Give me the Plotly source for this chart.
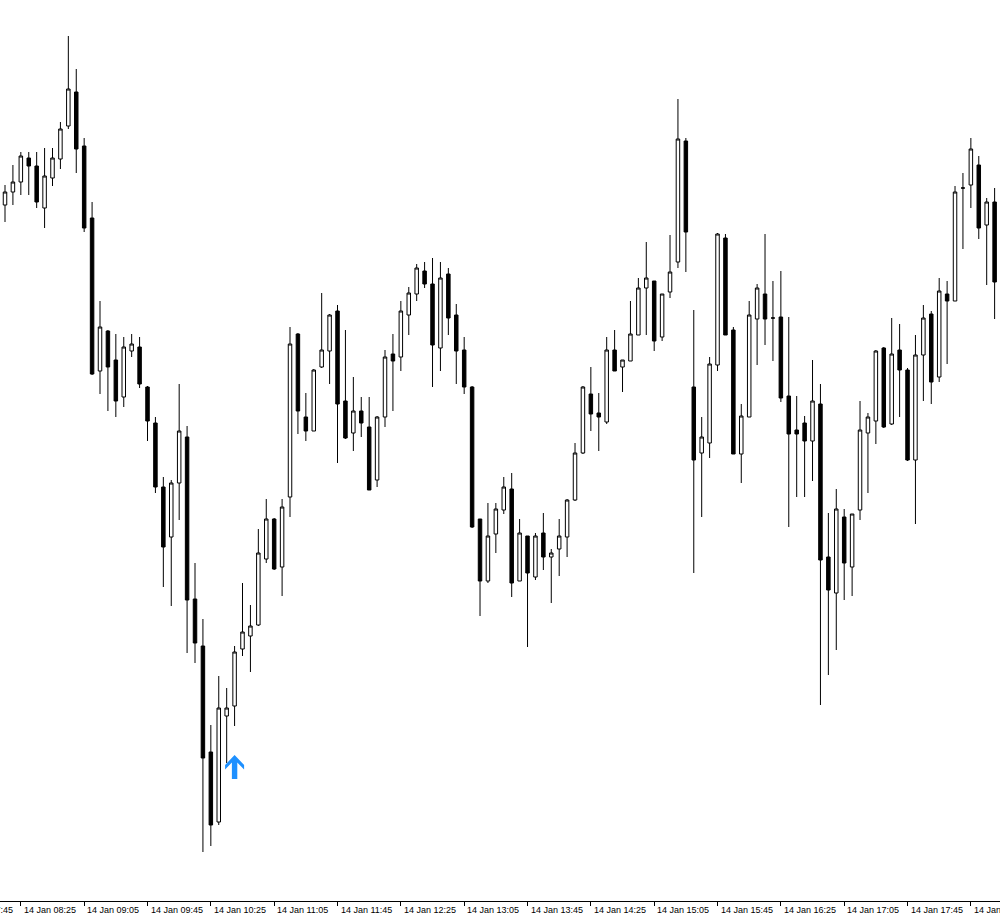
import pandas as pd
import plotly.graph_objects as go

# ── 5-minute bars, 14 Jan from 08:15 ────────────────────────────────────────
START = "2025-01-14 08:15"

OPEN = [795, 808, 818, 842, 834, 792, 822, 841, 874, 908,
        854, 782, 629, 669, 640, 603, 649, 653, 613, 577,
        513, 463, 517, 563, 401, 354, 248, 178, 284, 294,
        351, 364, 375, 441, 481, 433, 503, 666, 583, 569,
        633, 649, 689, 599, 567, 589, 573, 520, 583, 646,
        643, 685, 706, 729, 716, 652, 726, 685, 650, 613,
        481, 419, 466, 490, 511, 419, 464, 423, 467, 443,
        451, 463, 500, 547, 606, 587, 578, 650, 633, 639,
        665, 712, 719, 663, 708, 738, 859, 613, 547, 557,
        635, 762, 670, 546, 583, 681, 706, 682, 683, 604,
        570, 577, 559, 596, 443, 407, 483, 433, 490, 567,
        579, 652, 576, 650, 630, 540, 645, 686, 623, 706,
        699, 812, 815, 835, 775, 798]
HIGH = [815, 835, 848, 848, 848, 852, 852, 878, 964, 931,
        862, 798, 699, 670, 666, 663, 666, 663, 614, 583,
        523, 520, 616, 574, 437, 381, 275, 324, 312, 354,
        417, 395, 471, 501, 482, 501, 673, 667, 607, 631,
        707, 686, 695, 670, 623, 603, 603, 584, 650, 666,
        699, 713, 736, 738, 742, 738, 732, 696, 663, 614,
        481, 497, 497, 523, 527, 481, 464, 467, 487, 451,
        481, 501, 557, 614, 633, 607, 663, 670, 640, 699,
        722, 758, 719, 706, 765, 901, 862, 690, 583, 643,
        767, 766, 673, 596, 699, 716, 766, 719, 729, 683,
        604, 584, 640, 616, 487, 511, 491, 486, 599, 587,
        650, 653, 682, 676, 632, 665, 695, 689, 722, 719,
        814, 827, 862, 844, 802, 812]
LOW = [778, 795, 805, 805, 792, 772, 814, 831, 871, 827,
       768, 625, 606, 589, 583, 593, 643, 612, 559, 507,
       413, 394, 480, 347, 337, 148, 154, 175, 237, 274,
       344, 328, 374, 437, 430, 404, 483, 566, 559, 569,
       632, 616, 537, 561, 549, 563, 510, 513, 573, 589,
       629, 665, 699, 712, 613, 629, 665, 616, 606, 472,
       384, 417, 447, 486, 403, 419, 353, 420, 430, 397,
       424, 443, 499, 546, 569, 549, 576, 629, 608, 639,
       665, 665, 649, 659, 702, 732, 728, 427, 483, 542,
       629, 665, 546, 517, 583, 635, 655, 639, 598, 473,
       503, 503, 519, 295, 325, 350, 400, 404, 480, 507,
       556, 572, 575, 583, 539, 476, 599, 596, 618, 636,
       699, 751, 792, 761, 715, 681]
CLOSE = [808, 818, 844, 834, 798, 824, 842, 871, 911, 851,
         772, 626, 673, 633, 599, 653, 656, 616, 579, 513,
         453, 517, 569, 400, 357, 242, 175, 292, 292, 348,
         368, 374, 447, 481, 431, 493, 656, 589, 569, 630,
         650, 685, 596, 562, 589, 577, 510, 583, 643, 639,
         689, 707, 732, 716, 655, 722, 682, 649, 613, 473,
         419, 464, 491, 513, 417, 467, 427, 464, 443, 447,
         464, 500, 547, 613, 586, 583, 650, 629, 640, 666,
         712, 722, 659, 706, 728, 861, 768, 540, 563, 636,
         766, 665, 546, 584, 685, 712, 681, 682, 602, 566,
         566, 559, 599, 440, 410, 491, 437, 486, 570, 583,
         649, 573, 646, 630, 540, 645, 682, 618, 709, 699,
         808, 812, 851, 772, 798, 718]

# buy signal (blue up arrow)
SIGNAL_BAR = [29]
SIGNAL_PRICE = [245]

BG = "#FFFFFF"
CANDLE = "#000000"
SIGNAL_COLOR = "#1E90FF"
FONT = "Liberation Sans, Arial, sans-serif"

bars = list(range(len(OPEN)))
t0 = pd.Timestamp(START)
X_RANGE = [-0.632, 125.68]
Y_RANGE = [99, 1000]

# axis labels every 40 minutes, left-aligned at the tick like the terminal
tick_bars = list(range(-6, len(OPEN), 8))
tick_text = [(t0 + pd.Timedelta(minutes=5 * b)).strftime("%d %b %H:%M") for b in tick_bars]

fig = go.Figure()
fig.add_trace(go.Candlestick(
    x=bars, open=OPEN, high=HIGH, low=LOW, close=CLOSE,
    increasing=dict(line=dict(color=CANDLE, width=1), fillcolor=BG),
    decreasing=dict(line=dict(color=CANDLE, width=1), fillcolor=CANDLE),
    whiskerwidth=0,
    showlegend=False,
    hoverinfo="skip",
))

# arrow glyph, sized in pixels and anchored at the signal bar/price
arrow_path = ("M 0,0 L 9.5,-10 L 9.5,-14.5 L 2.7,-7.5 L 2.7,-24 "
              "L -2.7,-24 L -2.7,-7.5 L -9.5,-14.5 L -9.5,-10 Z")
for b, p in zip(SIGNAL_BAR, SIGNAL_PRICE):
    fig.add_shape(
        type="path", path=arrow_path,
        xref="x", yref="y", xsizemode="pixel", ysizemode="pixel",
        xanchor=b, yanchor=p,
        fillcolor=SIGNAL_COLOR, line=dict(width=0),
    )

span = X_RANGE[1] - X_RANGE[0]
for b, txt in zip(tick_bars, tick_text):
    fig.add_annotation(
        text=txt, xref="paper", yref="paper",
        x=(b - X_RANGE[0]) / span, y=0,
        xanchor="left", yanchor="middle", xshift=1, yshift=-9,
        showarrow=False,
        font=dict(size=9, color="#000000", family=FONT),
    )

fig.update_layout(
    width=1000, height=918,
    margin=dict(l=0, r=0, t=0, b=17),
    paper_bgcolor=BG, plot_bgcolor=BG,
    boxgap=0.37,
    showlegend=False,
    xaxis=dict(
        range=X_RANGE, rangeslider=dict(visible=False),
        showgrid=False, zeroline=False,
        showline=True, linecolor="#000000", linewidth=1,
        ticks="outside", ticklen=4, tickcolor="#000000", tickwidth=1,
        tickvals=[b for b in tick_bars if b >= 0],
        showticklabels=False,
    ),
    yaxis=dict(range=Y_RANGE, visible=False),
)

# page body has a default 8px margin; drop it so the chart fills the window
fig.write_html(
    "out.html",
    config={"displayModeBar": False},
    post_script="document.body.style.margin='0';",
)
